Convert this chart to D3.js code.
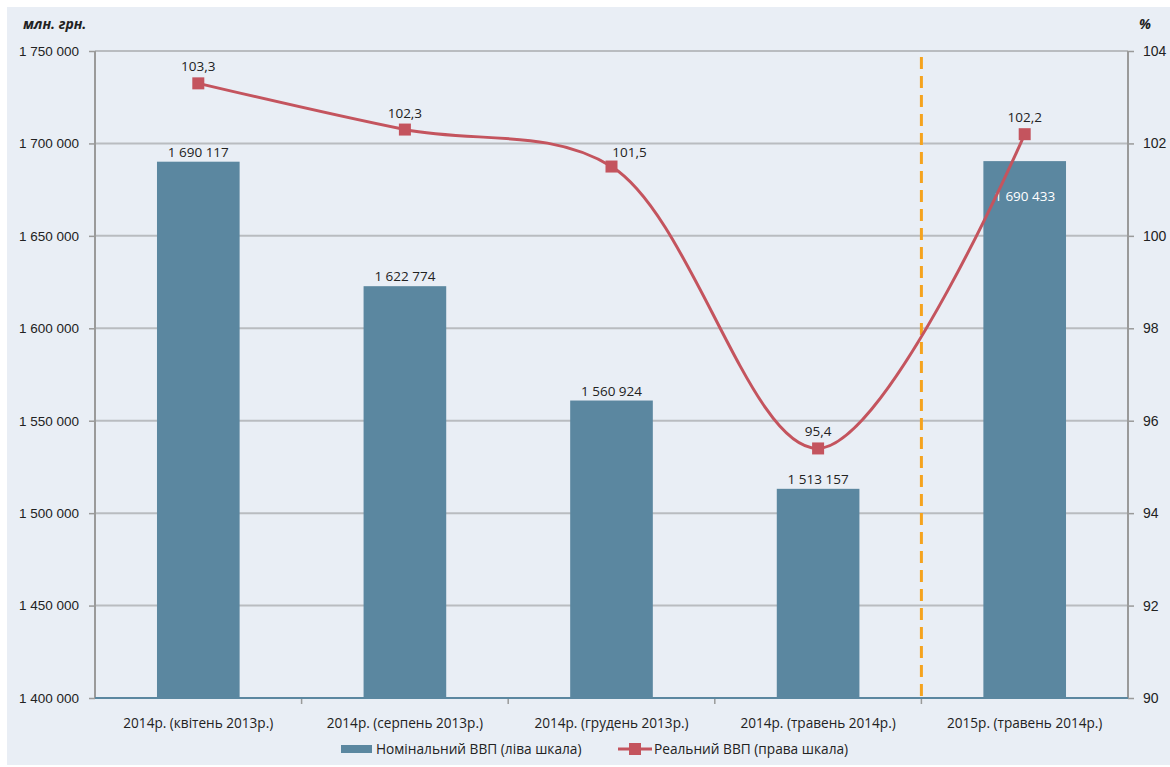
<!DOCTYPE html>
<html>
<head>
<meta charset="utf-8">
<script src="https://cdn.jsdelivr.net/npm/d3@7"></script>
<style>
  body { margin: 0; background: #fff; }
  svg { display: block; font-family: "Open Sans", "Noto Sans", sans-serif; }
</style>
</head>
<body>
<div id="chart"></div>
<script>
var categories = ["2014р. (квітень 2013р.)", "2014р. (серпень 2013р.)", "2014р. (грудень 2013р.)",
                  "2014р. (травень 2014р.)", "2015р. (травень 2014р.)"];
var nominal    = [1690117, 1622774, 1560924, 1513157, 1690433];
var real       = [103.3, 102.3, 101.5, 95.4, 102.2];
var leftTicks  = [1400000, 1450000, 1500000, 1550000, 1600000, 1650000, 1700000, 1750000];
var rightTicks = [90, 92, 94, 96, 98, 100, 102, 104];

var W = 1170, H = 767;
var margin = {top: 51, right: 42, bottom: 69, left: 95};
var width  = W - margin.left - margin.right;
var height = H - margin.top - margin.bottom;

var barColor = "#5b87a0", lineColor = "#c4545e", gridColor = "#b9bcc0", axisColor = "#9a9a9a";
var fmt = function(v) { return d3.format(",")(v).replace(/,/g, " "); };

var svg = d3.select("#chart").append("svg").attr("width", W).attr("height", H);

svg.append("rect").attr("x", 7).attr("y", 7).attr("width", W - 7).attr("height", H - 9)
  .attr("fill", "#e9eef5");

var g = svg.append("g").attr("transform", "translate(" + margin.left + "," + margin.top + ")");

var x  = d3.scaleBand().domain(categories).range([0, width]).paddingInner(0).paddingOuter(0);
var yL = d3.scaleLinear().domain([1400000, 1750000]).range([height, 0]);
var yR = d3.scaleLinear().domain([90, 104]).range([height, 0]);

// gridlines
g.append("g").selectAll("line").data(leftTicks.slice(1)).enter().append("line")
  .attr("x1", 0).attr("x2", width)
  .attr("y1", function(d) { return yL(d); }).attr("y2", function(d) { return yL(d); })
  .attr("stroke", gridColor).attr("stroke-width", 2);

// left axis
var leftAxis = g.append("g").call(d3.axisLeft(yL).tickValues(leftTicks).tickSize(6).tickPadding(10).tickFormat(fmt));
leftAxis.select(".domain").remove();
leftAxis.selectAll(".tick line").attr("stroke", axisColor).attr("stroke-width", 1.5);
leftAxis.selectAll("text").attr("fill", "#222").style("font-size", "13.5px");
g.append("line").attr("x1", 0).attr("x2", 0).attr("y1", 0).attr("y2", height)
  .attr("stroke", axisColor).attr("stroke-width", 2);

// right axis
var rightAxis = g.append("g").attr("transform", "translate(" + width + ",0)")
  .call(d3.axisRight(yR).tickValues(rightTicks).tickSize(6).tickPadding(9));
rightAxis.select(".domain").remove();
rightAxis.selectAll(".tick line").attr("stroke", axisColor).attr("stroke-width", 1.5);
rightAxis.selectAll("text").attr("fill", "#222").style("font-size", "14px");
g.append("line").attr("x1", width).attr("x2", width).attr("y1", 0).attr("y2", height)
  .attr("stroke", axisColor).attr("stroke-width", 2);

// bars
var barW = x.bandwidth() * 0.4;
g.selectAll(".bar").data(nominal).enter().append("rect")
  .attr("class", "bar")
  .attr("x", function(d, i) { return x(categories[i]) + (x.bandwidth() - barW) / 2; })
  .attr("width", barW)
  .attr("y", function(d) { return yL(d); })
  .attr("height", function(d) { return height - yL(d); })
  .attr("fill", barColor);

// bottom axis
var bottom = g.append("g").attr("transform", "translate(0," + height + ")");
bottom.append("line").attr("x1", 0).attr("x2", width).attr("stroke", barColor).attr("stroke-width", 2);
bottom.selectAll(".btick").data(d3.range(1, categories.length)).enter().append("line")
  .attr("x1", function(i) { return x(categories[i]); })
  .attr("x2", function(i) { return x(categories[i]); })
  .attr("y1", 1).attr("y2", 6).attr("stroke", axisColor).attr("stroke-width", 1.5);
bottom.selectAll(".cat").data(categories).enter().append("text")
  .attr("x", function(d) { return x(d) + x.bandwidth() / 2; })
  .attr("y", 30).attr("text-anchor", "middle").attr("fill", "#222")
  .style("font-size", "13.6px").text(function(d) { return d; });

// bar labels
g.selectAll(".blab").data(nominal).enter().append("text")
  .attr("x", function(d, i) { return x(categories[i]) + x.bandwidth() / 2; })
  .attr("y", function(d, i) { return i === 4 ? yL(d) + 40 : yL(d) - 5; })
  .attr("text-anchor", "middle")
  .attr("fill", function(d, i) { return i === 4 ? "#fff" : "#222"; })
  .style("font-size", "13.5px").text(fmt);

// forecast divider
var divX = x(categories[4]);
g.append("line").attr("x1", divX).attr("x2", divX).attr("y1", 6).attr("y2", height)
  .attr("stroke", "#f5a31e").attr("stroke-width", 3).attr("stroke-dasharray", "12,7");

// real GDP line
var line = d3.line()
  .x(function(d, i) { return x(categories[i]) + x.bandwidth() / 2; })
  .y(function(d) { return yR(d); })
  .curve(d3.curveCatmullRom.alpha(0.5));
g.append("path").datum(real).attr("d", line)
  .attr("fill", "none").attr("stroke", lineColor).attr("stroke-width", 3);
g.selectAll(".mk").data(real).enter().append("rect")
  .attr("x", function(d, i) { return x(categories[i]) + x.bandwidth() / 2 - 6; })
  .attr("y", function(d) { return yR(d) - 6; })
  .attr("width", 12).attr("height", 12).attr("fill", lineColor);
g.selectAll(".rlab").data(real).enter().append("text")
  .attr("x", function(d, i) { return x(categories[i]) + x.bandwidth() / 2 + (i === 2 ? 18 : 0); })
  .attr("y", function(d, i) { return yR(d) - (i === 2 ? 10 : 12); })
  .attr("text-anchor", "middle").attr("fill", "#222")
  .style("font-size", "13.5px").text(function(d) { return String(d).replace(".", ","); });

// axis titles
svg.append("text").attr("x", 23).attr("y", 29).attr("fill", "#222")
  .style("font-size", "14px").style("font-weight", "bold").style("font-style", "italic")
  .text("млн. грн.");
svg.append("text").attr("x", 1139).attr("y", 29).attr("fill", "#222")
  .style("font-size", "14px").style("font-weight", "bold").style("font-style", "italic")
  .text("%");

// legend
var leg = svg.append("g").attr("transform", "translate(0,749)");
leg.append("rect").attr("x", 341).attr("y", -4).attr("width", 31).attr("height", 8).attr("fill", barColor);
leg.append("text").attr("x", 376).attr("y", 5).attr("fill", "#222").style("font-size", "13.7px")
  .text("Номінальний ВВП (ліва шкала)");
leg.append("line").attr("x1", 618).attr("x2", 652).attr("stroke", lineColor).attr("stroke-width", 3);
leg.append("rect").attr("x", 629).attr("y", -6).attr("width", 12).attr("height", 12).attr("fill", lineColor);
leg.append("text").attr("x", 654).attr("y", 5).attr("fill", "#222").style("font-size", "13.7px")
  .text("Реальний ВВП (права шкала)");
</script>
</body>
</html>
